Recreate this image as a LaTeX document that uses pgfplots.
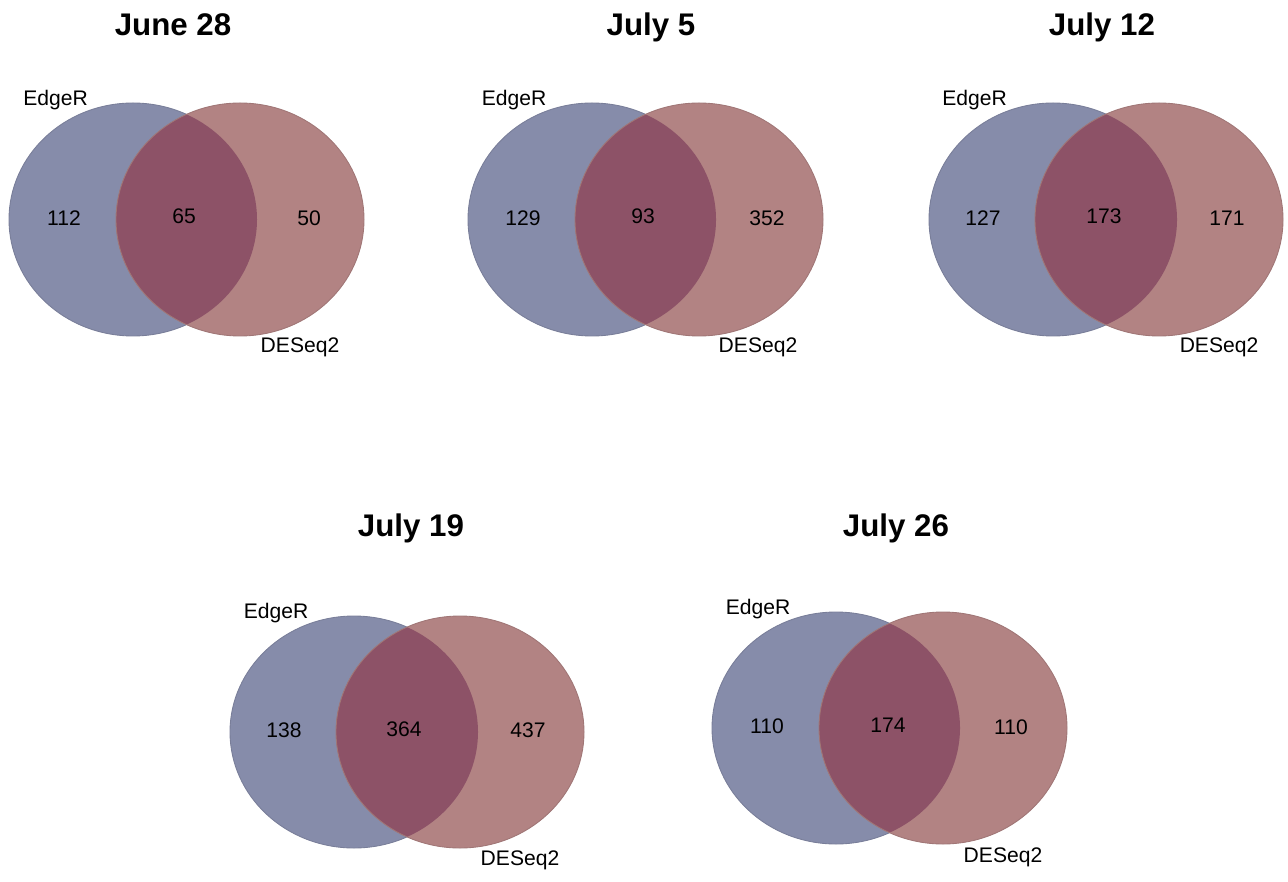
\documentclass[border=0pt]{standalone}
\usepackage{fontspec}
\setmainfont{Liberation Sans}
\usepackage{pgfplots}
\usepackage{pgfplotstable}
\pgfplotsset{compat=1.18}

\definecolor{edger}{RGB}{134,140,170}
\definecolor{deseq}{RGB}{178,131,131}
\definecolor{both}{RGB}{141,82,103}

% counts: x, baseline y (pixels from top, negated), value
\pgfplotstableread{
x y label
64 -225.5 112
184 -224 65
309 -226 50
523 -225.5 129
643 -224 93
767 -226 352
983 -225.5 127
1104 -224 173
1227 -226 171
284 -737 138
404 -736 364
528 -737 437
767 -733.5 110
888 -732 174
1011 -734 110
}\counts

% #1 EdgeR centre x, #2 DESeq2 centre x, #3 centre y, #4 y radius
\newcommand{\venn}[4]{%
  \fill[edger] (axis cs:#1,-#3) ellipse [x radius=124, y radius=#4];
  \draw[edger!90!black, line width=0.25pt] (axis cs:#1,-#3) ellipse [x radius=124, y radius=#4];
  \fill[deseq] (axis cs:#2,-#3) ellipse [x radius=124, y radius=#4];
  \begin{scope}
    \clip (axis cs:#1,-#3) ellipse [x radius=124, y radius=#4];
    \fill[both] (axis cs:#2,-#3) ellipse [x radius=124, y radius=#4];
  \end{scope}
  \draw[deseq!90!black, line width=0.25pt] (axis cs:#2,-#3) ellipse [x radius=124, y radius=#4];
}

\begin{document}
\begin{tikzpicture}
\begin{axis}[
    width=12.88cm, height=8.71cm,
    scale only axis,
    xmin=0, xmax=1288, ymin=-871, ymax=0,
    hide axis,
    clip=false,
]
% keep the whole canvas in the bounding box
\path (rel axis cs:0,0) rectangle (rel axis cs:1,1);

\venn{133}{240}{219.5}{116.5}
\venn{592}{699}{219.5}{116.5}
\venn{1053}{1159}{219.5}{116.5}
\venn{354}{460}{732}{116}
\venn{836}{943}{728}{116}

\addplot[draw=none, mark=none, nodes near coords, point meta=explicit symbolic,
    nodes near coords style={anchor=base, font=\fontsize{6}{7}\selectfont, text=black}]
    table[x=x, y=y, meta=label] {\counts};

\tikzset{ttl/.style={anchor=base, font=\fontsize{8.9}{10}\selectfont\bfseries},
         lbl/.style={anchor=base, font=\fontsize{6}{7}\selectfont}}
\node[ttl] at (axis cs:173,-36) {June 28};
\node[ttl] at (axis cs:651,-36) {July 5};
\node[ttl] at (axis cs:1102,-36) {July 12};
\node[ttl] at (axis cs:411,-536) {July 19};
\node[ttl] at (axis cs:896,-536) {July 26};

\node[lbl] at (axis cs:55.5,-106) {EdgeR};
\node[lbl] at (axis cs:514,-106) {EdgeR};
\node[lbl] at (axis cs:974.5,-106) {EdgeR};
\node[lbl] at (axis cs:276,-618) {EdgeR};
\node[lbl] at (axis cs:758,-614) {EdgeR};

\node[lbl] at (axis cs:300,-353) {DESeq2};
\node[lbl] at (axis cs:758,-353) {DESeq2};
\node[lbl] at (axis cs:1219,-353) {DESeq2};
\node[lbl] at (axis cs:520,-865) {DESeq2};
\node[lbl] at (axis cs:1003,-862) {DESeq2};
\end{axis}
\end{tikzpicture}
\end{document}
